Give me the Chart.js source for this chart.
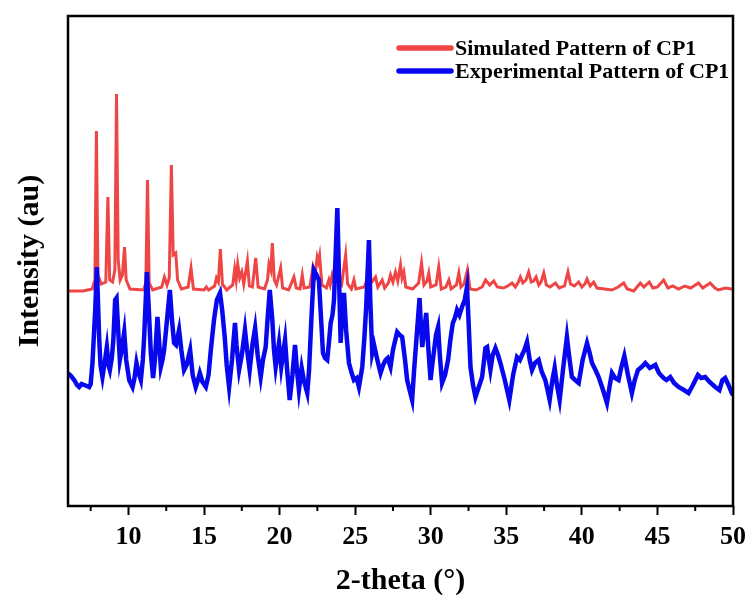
<!DOCTYPE html>
<html><head><meta charset="utf-8">
<script src="https://cdn.jsdelivr.net/npm/chart.js@4.4.0/dist/chart.umd.min.js"></script>
<style>html,body{margin:0;padding:0;background:#fff;}#wrap{width:753px;height:603px;}</style>
</head><body><div id="wrap"><canvas id="c" width="753" height="603"></canvas></div>
<script>
// Simulated pattern (2-theta, intensity in arbitrary units)
const simTheta = [
 6.0,7.0,7.6,7.78,7.88,7.98,8.2,8.5,8.64,8.76,
 8.95,9.1,9.21,9.32,9.45,9.6,9.74,9.85,10.1,11.0,
 11.15,11.26,11.37,11.6,12.2,12.38,12.55,12.7,12.84,12.96,
 13.13,13.25,13.5,13.95,14.14,14.3,15.0,15.16,15.3,15.7,
 15.82,15.95,16.08,16.22,16.5,16.9,17.03,17.13,17.23,17.36,
 17.5,17.63,17.87,18.0,18.2,18.42,18.58,19.0,19.2,19.3,
 19.42,19.52,19.65,19.8,20.07,20.2,20.6,20.95,21.1,21.35,
 21.5,21.62,22.0,22.21,22.35,22.49,22.58,22.65,22.8,23.1,
 23.26,23.35,23.48,23.6,23.75,23.88,24.1,24.37,24.5,24.75,
 24.92,25.05,25.6,25.78,25.91,26.05,26.35,26.5,26.79,26.95,
 27.2,27.34,27.5,27.67,27.82,28.0,28.1,28.22,28.35,28.8,
 29.2,29.39,29.55,29.75,29.87,30.0,30.35,30.53,30.7,31.0,
 31.2,31.35,31.7,31.86,32.0,32.2,32.43,32.6,33.0,33.4,
 33.63,33.9,34.17,34.4,34.8,35.1,35.38,35.6,35.8,35.93,
 36.1,36.3,36.48,36.65,36.8,36.97,37.15,37.3,37.48,37.65,
 37.9,38.25,38.5,38.85,39.08,39.25,39.5,39.79,40.0,40.2,
 40.34,40.55,40.78,41.0,41.5,41.99,42.4,42.77,43.0,43.43,
 43.65,43.87,44.1,44.46,44.7,45.0,45.41,45.7,46.0,46.4,
 46.8,47.2,47.72,48.0,48.49,48.8,49.04,49.5,49.9,50.0
];
const simIntensity = [
 215,215,217,226,375,231,222,224,309,226,
 224,236,412,246,226,231,259,226,217,216,
 223,326,223,216,219,229,221,228,341,251,
 253,226,217,219,238,217,216,219,216,220,
 228,224,257,222,216,221,237,226,242,228,
 234,222,245,220,219,248,219,217,226,242,
 236,263,226,221,238,218,216,229,218,217,
 231,218,219,239,231,249,244,250,221,218,
 226,221,231,224,259,224,221,251,222,217,
 226,217,219,226,263,223,229,219,226,218,
 223,231,224,234,225,241,228,234,219,217,
 223,243,221,225,233,219,221,239,217,219,
 226,217,221,233,219,222,236,217,216,219,
 226,221,225,219,218,220,223,219,224,229,
 223,226,234,224,225,229,221,224,233,221,
 219,223,218,220,234,222,220,224,219,222,
 227,220,224,218,217,216,219,223,217,215,
 219,223,219,224,218,219,226,218,220,217,
 220,218,223,218,223,218,216,218,217,217
];
// Experimental pattern
const expTheta = [
 6.0,6.2,6.41,6.6,6.74,6.9,7.07,7.25,7.4,7.5,
 7.62,7.8,7.91,8.06,8.15,8.28,8.45,8.57,8.68,8.77,
 8.9,9.0,9.12,9.21,9.32,9.43,9.55,9.72,9.85,10.05,
 10.27,10.4,10.53,10.65,10.82,10.95,11.04,11.22,11.35,11.48,
 11.63,11.75,11.92,12.02,12.14,12.25,12.36,12.55,12.74,12.88,
 13.02,13.15,13.35,13.5,13.68,13.85,14.08,14.25,14.45,14.6,
 14.72,14.9,15.12,15.3,15.45,15.66,15.85,16.06,16.2,16.37,
 16.5,16.66,16.85,17.05,17.15,17.32,17.5,17.71,17.85,18.02,
 18.2,18.38,18.55,18.75,18.9,19.08,19.2,19.35,19.52,19.63,
 19.74,19.85,19.96,20.11,20.22,20.36,20.5,20.67,20.85,21.02,
 21.15,21.28,21.46,21.6,21.83,21.95,22.1,22.27,22.45,22.6,
 22.75,22.87,23.0,23.15,23.25,23.38,23.5,23.6,23.72,23.82,
 23.92,24.04,24.15,24.26,24.4,24.59,24.75,24.92,25.1,25.25,
 25.35,25.47,25.6,25.73,25.91,26.0,26.13,26.25,26.35,26.5,
 26.68,26.85,27.01,27.15,27.34,27.5,27.78,27.95,28.11,28.3,
 28.44,28.6,28.77,28.9,29.1,29.26,29.35,29.44,29.57,29.7,
 29.85,29.99,30.1,30.2,30.35,30.49,30.6,30.75,30.95,31.15,
 31.3,31.46,31.6,31.74,31.9,32.07,32.25,32.4,32.5,32.63,
 32.8,32.96,33.18,33.4,33.62,33.73,33.85,33.95,34.1,34.28,
 34.45,34.61,34.9,35.2,35.45,35.71,35.9,36.04,36.2,36.37,
 36.55,36.7,36.9,37.14,37.35,37.58,37.7,37.87,38.05,38.2,
 38.35,38.53,38.75,39.01,39.15,39.34,39.55,39.79,40.05,40.34,
 40.5,40.67,40.9,41.11,41.4,41.66,41.85,41.99,42.2,42.43,
 42.6,42.81,43.05,43.31,43.5,43.71,43.95,44.2,44.5,44.86,
 45.1,45.41,45.6,45.85,46.1,46.4,46.75,47.06,47.35,47.68,
 47.9,48.16,48.45,48.82,49.1,49.3,49.48,49.7,49.92,50.0
];
const expIntensity = [
 133,130,126,121,119,122,121,120,119,122,
 143,196,239,169,141,129,146,159,141,136,
 148,166,206,208,176,146,156,174,146,126,
 119,128,143,134,126,146,169,234,196,153,
 128,146,189,166,139,146,156,186,216,186,
 163,161,176,156,136,141,156,131,119,126,
 133,124,119,131,156,186,206,213,196,169,
 141,119,146,183,161,136,151,176,156,136,
 161,178,151,129,146,159,186,216,186,156,
 139,151,163,139,151,166,136,106,131,161,
 136,116,138,126,113,136,186,236,231,226,
 186,153,148,146,161,183,191,206,256,298,
 236,163,196,213,176,143,134,126,128,119,
 128,139,166,199,266,206,153,161,154,144,
 133,141,146,148,139,156,174,171,169,146,
 126,116,106,136,176,208,181,159,176,193,
 156,126,141,153,171,179,151,123,131,146,
 166,183,188,196,191,199,206,219,186,139,
 121,109,119,129,158,159,146,136,151,158,
 151,143,126,106,131,149,146,151,156,164,
 146,136,143,146,134,126,118,106,126,138,
 121,106,136,169,151,129,126,123,146,163,
 154,143,136,129,116,103,121,133,128,126,
 138,150,131,113,126,136,139,143,138,141,
 133,128,126,129,123,119,116,113,121,131,
 128,129,124,119,116,126,128,121,113,111
];
const xTickValues = [7.5,10,12.5,15,17.5,20,22.5,25,27.5,30,32.5,35,37.5,40,42.5,45,47.5,50];
const seriesLabels = ['Simulated Pattern of CP1','Experimental Pattern of CP1'];
const seriesColors = ['#ef4545','#0808ee'];

const FONT = "'Times New Roman','Liberation Serif',serif";
const toPts = (xs, ys) => xs.map((x, i) => ({x: x, y: ys[i]}));

const framePlugin = {
  id: 'frame',
  afterDraw(chart) {
    const {ctx, chartArea: a, scales: {x}} = chart;
    ctx.save();
    ctx.strokeStyle = '#000';
    ctx.lineWidth = 2;
    x.ticks.forEach(t => {
      if (t.value % 5 !== 0) {
        const px = x.getPixelForValue(t.value);
        ctx.beginPath(); ctx.moveTo(px, a.bottom); ctx.lineTo(px, a.bottom + 5); ctx.stroke();
      }
    });
    ctx.lineWidth = 2.5;
    ctx.strokeRect(a.left, a.top, a.right - a.left, a.bottom - a.top);
    // legend
    const rows = [a.top + 32, a.top + 55];
    chart.data.datasets.forEach((ds, i) => {
      const y = rows[i];
      ctx.strokeStyle = ds.borderColor;
      ctx.lineWidth = 5.5;
      ctx.lineCap = 'round';
      ctx.beginPath(); ctx.moveTo(a.left + 331, y); ctx.lineTo(a.left + 383, y); ctx.stroke();
      ctx.fillStyle = '#000';
      ctx.font = 'bold 22px ' + FONT;
      ctx.textBaseline = 'middle';
      ctx.textAlign = 'left';
      ctx.fillText(ds.label, a.left + 387, y + 1);
    });
    ctx.restore();
  }
};

new Chart(document.getElementById('c').getContext('2d'), {
  type: 'line',
  data: {datasets: [
    {label: seriesLabels[0], data: toPts(simTheta, simIntensity), borderColor: seriesColors[0], borderWidth: 3, pointRadius: 0, tension: 0, order: 2},
    {label: seriesLabels[1], data: toPts(expTheta, expIntensity), borderColor: seriesColors[1], borderWidth: 4.5, pointRadius: 0, tension: 0, order: 1}
  ]},
  options: {
    responsive: false, animation: false, devicePixelRatio: 1,
    layout: {padding: {top: 16, right: 18, left: 0, bottom: 0}},
    plugins: {legend: {display: false}, tooltip: {enabled: false}},
    scales: {
      x: {
        type: 'linear', min: 6, max: 50,
        afterBuildTicks: s => { s.ticks = xTickValues.map(v => ({value: v})); },
        afterFit: s => { s.height = 97; },
        grid: {drawOnChartArea: false, drawTicks: true, tickLength: 9, tickWidth: 2,
               tickColor: c => (c.tick && c.tick.value % 5 === 0) ? '#000' : 'rgba(0,0,0,0)'},
        border: {display: false},
        ticks: {autoSkip: false, maxRotation: 0, padding: 7, color: '#000',
                font: {family: FONT, size: 26, weight: 'bold'},
                callback: v => (v % 5 === 0 ? String(v) : '')},
        title: {display: true, text: '2-theta (°)', color: '#000',
                font: {family: FONT, size: 30, weight: 'bold'}, padding: {top: 0, bottom: 4}}
      },
      y: {
        min: 0, max: 490,
        afterFit: s => { s.width = 68; },
        ticks: {display: false}, grid: {display: false}, border: {display: false},
        title: {display: true, text: 'Intensity (au)', color: '#000',
                font: {family: FONT, size: 30, weight: 'bold'}, padding: {top: 12, bottom: 0}}
      }
    }
  },
  plugins: [framePlugin]
});
</script>
</body></html>
